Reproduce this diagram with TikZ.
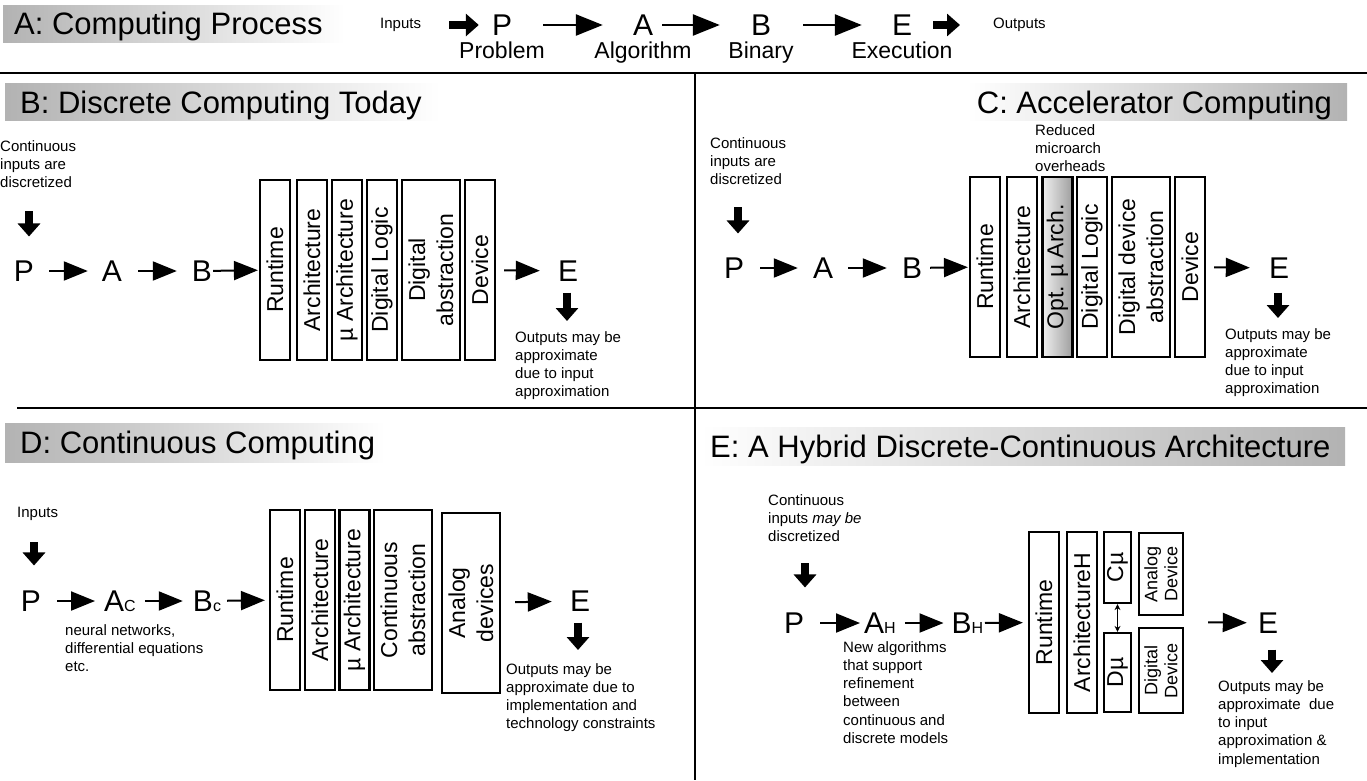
\documentclass[tikz,border=0pt]{standalone}
\usepackage{fontspec}
\setmainfont{Liberation Sans}
\usetikzlibrary{arrows.meta,positioning}
\newcommand{\bandfont}{\fontsize{31}{34}\selectfont}
\newcommand{\letterfont}{\fontsize{30}{32}\selectfont}
\newcommand{\stagefont}{\fontsize{23}{26}\selectfont}
\newcommand{\notefont}{\fontsize{15}{18.3}\selectfont}
\newcommand{\layerfont}{\fontsize{23}{28}\selectfont}
\newcommand{\minifont}{\fontsize{18}{20}\selectfont}
\newcommand{\subfont}{\fontsize{16}{16}\selectfont}
\tikzstyle{band} = [font=\bandfont, inner sep=0pt]
\tikzstyle{letter} = [font=\letterfont, inner sep=0pt]
\tikzstyle{stagename} = [font=\stagefont, inner sep=0pt, anchor=base]
\tikzstyle{note} = [font=\notefont, inner sep=0pt, align=left, anchor=north west]
\tikzstyle{layer} = [draw, line width=2.2pt, rotate=90, inner sep=0pt, align=center, font=\layerfont, minimum width=180pt, minimum height=30pt]
\tikzstyle{procarrow} = [line width=2pt, -{Triangle[length=24pt,width=19pt]}]
\tikzstyle{longarrow} = [line width=2.5pt, -{Triangle[length=27pt,width=21pt]}]
\tikzstyle{blockarrow} = [line width=8.5pt, -{Triangle[length=13pt,width=22pt]}]
\tikzstyle{dblarrow} = [line width=1.2pt, {Stealth[length=6pt,width=6pt]}-{Stealth[length=6pt,width=6pt]}]
\tikzstyle{divider} = [line width=2.5pt]

\begin{document}
\begin{tikzpicture}[x=1pt, y=-1pt]
        \useasboundingbox (0,0) rectangle (1367,780);
        % A: computing process
        \shade[left color=black!30, right color=white] (3,5) rectangle (345,42);
        \node[band, anchor=base west] (ttlA) at (14,34.5) {A: Computing Process};
        \node[note, anchor=west] (inpA) at (380,25) {Inputs};
        \node[letter] (pA) at (502,25) {P};
        \node[letter] (aA) at (643,25) {A};
        \node[letter] (bA) at (761,25) {B};
        \node[letter] (eA) at (902,25) {E};
        \node[note, anchor=west] (outpA) at (993,25) {Outputs};
        \node[stagename] (pnA) at (502,58) {Problem};
        \node[stagename] (anA) at (643,58) {Algorithm};
        \node[stagename] (bnA) at (761,58) {Binary};
        \node[stagename] (enA) at (902,58) {Execution};
        \draw[blockarrow, shorten <=28pt, shorten >=13pt] (inpA) -- (pA);
        \draw[longarrow, shorten <=31pt, shorten >=30pt] (pA) -- (aA);
        \draw[longarrow, shorten <=9pt, shorten >=31pt] (aA) -- (bA);
        \draw[longarrow, shorten <=32pt, shorten >=30pt] (bA) -- (eA);
        \draw[blockarrow, shorten <=21pt, shorten >=33pt] (eA) -- (outpA);
        % dividers
        \draw[divider] (0,73) -- (1367,73);
        \draw[divider] (695,73) -- (695,780);
        \draw[divider] (17,408) -- (1367,408);
        % B: discrete computing today
        \shade[left color=black!30, right color=white] (5,83) rectangle (440,120);
        \node[band, anchor=base west] (ttlB) at (20,113) {B: Discrete Computing Today};
        \node[note] (ciB) at (0,140) {Continuous\\inputs are\\discretized};
        \coordinate (inB) at (29,211);
        \node[letter] (pB) at (24,271) {P};
        \node[letter] (aB) at (112,271) {A};
        \node[letter] (bB) at (202,271) {B};
        \node[layer] (rtB) at (275,270) {Runtime};
        \node[layer] (arB) at (312,270) {Architecture};
        \node[layer] (maB) at (347,270) {µ Architecture};
        \node[layer] (dlB) at (382,270) {Digital Logic};
        \node[layer, minimum height=58pt] (daB) at (431,270) {Digital\\abstraction};
        \node[layer] (dvB) at (480,270) {Device};
        \node[letter] (eB) at (568,271) {E};
        \coordinate (outB) at (567,321);
        \node[note] (coB) at (515,331) {Outputs may be\\approximate\\due to input\\approximation};
        \draw[blockarrow, shorten >=24pt] (inB) -- (inB |- pB.north);
        \draw[procarrow, shorten <=15pt, shorten >=14pt] (pB) -- (aB);
        \draw[procarrow, shorten <=16pt, shorten >=15pt] (aB) -- (bB);
        \draw[procarrow, shorten <=1pt, shorten >=1pt] (bB) -- (rtB);
        \draw[procarrow, shorten <=8pt, shorten >=18pt] (dvB) -- (eB);
        \draw[blockarrow, shorten <=11pt] (outB |- eB.south) -- (outB);
        % C: accelerator computing
        \shade[left color=white, right color=black!30] (967,83) rectangle (1347,120);
        \node[band, anchor=base east] (ttlC) at (1332,113) {C: Accelerator Computing};
        \node[note] (ciC) at (710,137) {Continuous\\inputs are\\discretized};
        \node[note] (roC) at (1035,124) {Reduced\\microarch\\overheads};
        \coordinate (inC) at (738,207);
        \node[letter] (pC) at (734,268) {P};
        \node[letter] (aC) at (823,268) {A};
        \node[letter] (bC) at (912,268) {B};
        \shade[left color=black!6, right color=black!38] (1042.5,177) rectangle (1072.5,357);
        \node[layer] (rtC) at (985,267) {Runtime};
        \node[layer] (arC) at (1022,267) {Architecture};
        \node[layer] (omC) at (1057.5,267) {Opt. µ Arch.};
        \node[layer] (dlC) at (1092,267) {Digital Logic};
        \node[layer, minimum height=58pt] (ddC) at (1141,267) {Digital device\\abstraction};
        \node[layer] (dvC) at (1190,267) {Device};
        \node[letter] (eC) at (1279,268) {E};
        \coordinate (outC) at (1278,318);
        \node[note] (coC) at (1225,328) {Outputs may be\\approximate\\due to input\\approximation};
        \draw[blockarrow, shorten >=24pt] (inC) -- (inC |- pC.north);
        \draw[procarrow, shorten <=16pt, shorten >=15pt] (pC) -- (aC);
        \draw[procarrow, shorten <=15pt, shorten >=15pt] (aC) -- (bC);
        \draw[procarrow, shorten <=8pt, shorten >=1pt] (bC) -- (rtC);
        \draw[procarrow, shorten <=8pt, shorten >=19pt] (dvC) -- (eC);
        \draw[blockarrow, shorten <=14pt] (outC |- eC.south) -- (outC);
        % D: continuous computing
        \shade[left color=black!30, right color=white] (5,423) rectangle (385,462);
        \node[band, anchor=base west] (ttlD) at (20,453.5) {D: Continuous Computing};
        \node[note] (inpD) at (17,507) {Inputs};
        \coordinate (inD) at (34,542);
        \node[letter] (pD) at (31,601) {P};
        \node[letter] (aD) at (120,601) {A{\subfont C}};
        \node[letter] (bD) at (207,601) {B{\subfont c}};
        \node[note] (nnD) at (65,624) {neural networks,\\differential equations\\etc.};
        \node[layer] (rtD) at (285,600) {Runtime};
        \node[layer] (arD) at (320,600) {Architecture};
        \node[layer] (maD) at (354.5,600) {µ Architecture};
        \node[layer, minimum height=58pt] (caD) at (403,600) {Continuous\\abstraction};
        \node[layer, minimum height=58pt] (anD) at (471,603) {Analog\\devices};
        \node[letter] (eD) at (580,601) {E};
        \coordinate (outD) at (578,650);
        \node[note] (coD) at (506,663) {Outputs may be\\approximate due to\\implementation and\\technology constraints};
        \draw[blockarrow, shorten >=25pt] (inD) -- (inD |- pD.north);
        \draw[procarrow, shorten <=16pt, shorten >=9pt] (pD) -- (aD);
        \draw[procarrow, shorten <=9pt, shorten >=10pt] (aD) -- (bD);
        \draw[procarrow, shorten <=6pt, shorten >=4pt] (bD) -- (rtD);
        \draw[procarrow, shorten <=14pt, shorten >=18pt] (anD) -- (eD);
        \draw[blockarrow, shorten <=11pt] (outD |- eD.south) -- (outD);
        % E: hybrid discrete-continuous architecture
        \shade[left color=white, right color=black!30] (700,427) rectangle (1345,465);
        \node[band, anchor=base west] (ttlE) at (710,457) {E: A Hybrid Discrete-Continuous Architecture};
        \node[note] (ciE) at (768,494) {Continuous\\inputs \textit{may be}\\discretized};
        \coordinate (inE) at (805,563);
        \node[letter] (pE) at (794,623) {P};
        \node[letter] (aE) at (880,623) {A{\subfont H}};
        \node[letter] (bE) at (967.5,623) {B{\subfont H}};
        \node[note] (naE) at (843,641) {New algorithms\\that support\\refinement\\between\\continuous and\\discrete models};
        \node[layer, minimum width=181pt] (rtE) at (1044,622.5) {Runtime};
        \node[layer, minimum width=181pt] (arE) at (1082,622.5) {ArchitectureH};
        \node[layer, minimum width=71pt, minimum height=27pt] (cmE) at (1117.5,567.5) {Cµ};
        \node[layer, minimum width=79pt, minimum height=27pt] (dmE) at (1117.5,672.5) {Dµ};
        \node[layer, minimum width=82pt, minimum height=44pt, font=\minifont] (adE) at (1161,574) {Analog\\Device};
        \node[layer, minimum width=85pt, minimum height=44pt, font=\minifont] (ddE) at (1161,670.5) {Digital\\Device};
        \coordinate (gapE) at (1183,622);
        \node[letter] (eE) at (1268,623) {E};
        \coordinate (outE) at (1272,673);
        \node[note] (coE) at (1218,680) {Outputs may be\\approximate\ \ due\\to input\\approximation \&\\implementation};
        \draw[blockarrow, shorten >=25pt] (inE) -- (inE |- pE.north);
        \draw[procarrow, shorten <=16pt, shorten >=4pt] (pE) -- (aE);
        \draw[procarrow, shorten <=9pt, shorten >=8pt] (aE) -- (bE);
        \draw[procarrow, shorten <=1.5pt, shorten >=5pt] (bE) -- (rtE);
        \draw[dblarrow] (cmE) -- (dmE);
        \draw[procarrow, shorten <=25pt, shorten >=11pt] (gapE) -- (eE);
        \draw[blockarrow, shorten <=16pt] (outE |- eE.south) -- (outE);
    \end{tikzpicture}
\end{document}
